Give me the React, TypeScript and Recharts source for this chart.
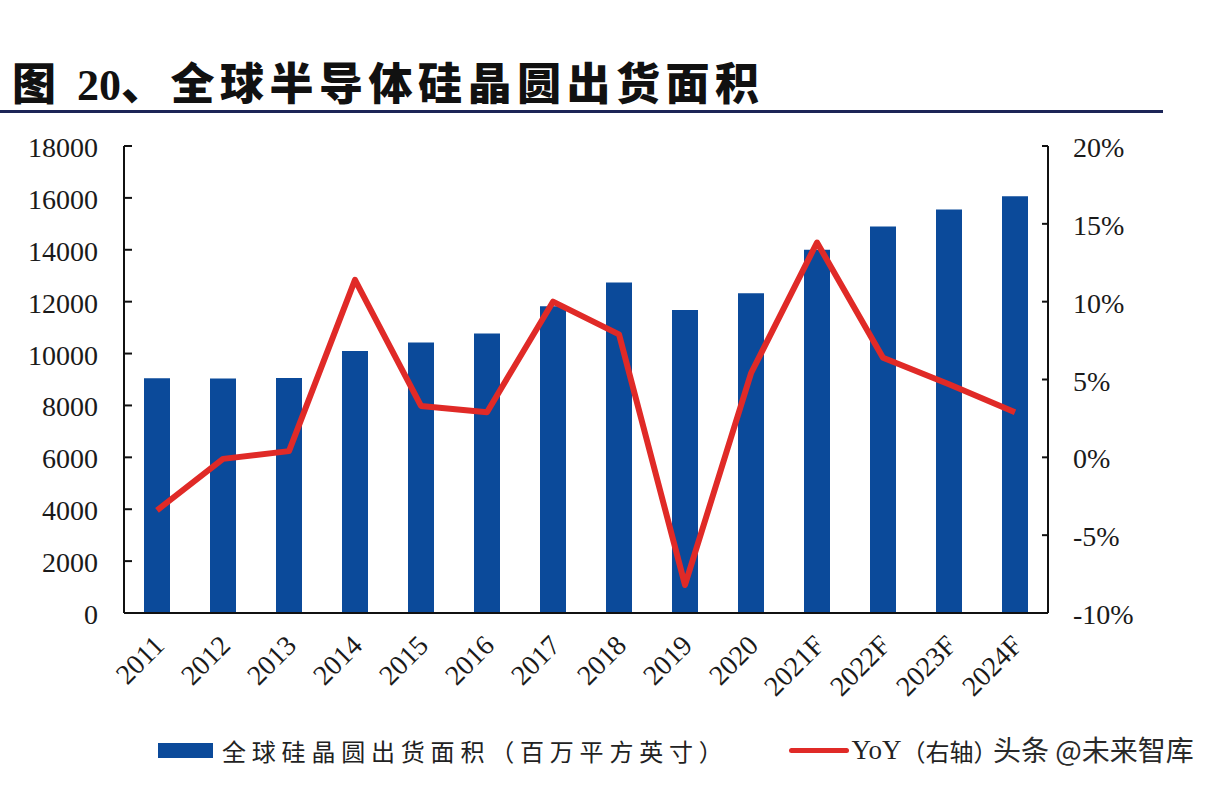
import { ComposedChart, Bar, Line, XAxis, YAxis } from 'recharts';

// 年份（横轴）
const years = ['2011', '2012', '2013', '2014', '2015', '2016', '2017', '2018', '2019', '2020', '2021F', '2022F', '2023F', '2024F'];
// 全球硅晶圆出货面积（百万平方英寸）
const shipArea = [9050, 9040, 9060, 10100, 10430, 10770, 11820, 12740, 11680, 12320, 14000, 14900, 15550, 16060];
// YoY（%，右轴）
const yoy = [-3.4, -0.1, 0.4, 11.4, 3.3, 2.9, 10.0, 7.9, -8.2, 5.4, 13.8, 6.4, 4.7, 2.9];

const leftTicks = [0, 2000, 4000, 6000, 8000, 10000, 12000, 14000, 16000, 18000];
const rightTicks = [-10, -5, 0, 5, 10, 15, 20];

const BAR = '#0b4a9a';
const RED = '#e02a27';
const SERIF = '"Liberation Serif", "Times New Roman", serif';

const data = years.map((y, i) => ({ year: y, area: shipArea[i], yoy: yoy[i] }));

function LeftTick(props: any) {
  const { x, y, payload } = props;
  return (
    <g>
      <line x1={x} x2={x + 8} y1={y} y2={y} stroke="#111" strokeWidth={2} />
      <text x={x - 26} y={y} dy={11} textAnchor="end" fontSize={28} fontFamily={SERIF} fill="#1a1a1a">
        {payload.value}
      </text>
    </g>
  );
}

function RightTick(props: any) {
  const { x, y, payload } = props;
  return (
    <g>
      <line x1={x - 6} x2={x} y1={y} y2={y} stroke="#111" strokeWidth={2} />
      <text x={x + 25} y={y} dy={11} textAnchor="start" fontSize={28} fontFamily={SERIF} fill="#1a1a1a">
        {payload.value + '%'}
      </text>
    </g>
  );
}

function XTick(props: any) {
  const { x, y, payload } = props;
  const tx = x + 9;
  const ty = y + 34;
  return (
    <text
      x={tx}
      y={ty}
      textAnchor="end"
      fontSize={28}
      fontFamily={SERIF}
      fill="#1a1a1a"
      transform={`rotate(-45, ${tx}, ${ty})`}
    >
      {payload.value}
    </text>
  );
}

export default function App() {
  return (
    <div style={{ position: 'absolute', left: 0, top: 0, width: 1226, height: 788, background: '#fff', overflow: 'hidden' }}>
      {/* 标题 */}
      <div
        style={{
          position: 'absolute',
          left: 12,
          top: 57,
          fontSize: 44,
          lineHeight: '48px',
          fontWeight: 900,
          letterSpacing: 5.5,
          fontFamily: '"Noto Sans CJK SC", sans-serif',
          color: '#111',
          whiteSpace: 'nowrap',
        }}
      >
        图 <span style={{ fontFamily: SERIF, fontWeight: 700, letterSpacing: 0 }}>20</span>、全球半导体硅晶圆出货面积
      </div>
      <div style={{ position: 'absolute', left: 0, top: 110, width: 1163, height: 3, background: '#1c2557' }} />

      <ComposedChart width={1226} height={788} data={data} margin={{ top: 146, right: 0, bottom: 65, left: 0 }}>
        <XAxis
          dataKey="year"
          height={110}
          interval={0}
          tickLine={false}
          tickSize={0}
          tickMargin={0}
          axisLine={{ stroke: '#111', strokeWidth: 2 }}
          tick={<XTick />}
        />
        <YAxis
          yAxisId="l"
          width={124}
          domain={[0, 18000]}
          ticks={leftTicks}
          interval={0}
          tickLine={false}
          tickSize={0}
          tickMargin={0}
          axisLine={{ stroke: '#111', strokeWidth: 2 }}
          tick={<LeftTick />}
        />
        <YAxis
          yAxisId="r"
          orientation="right"
          width={178}
          domain={[-10, 20]}
          ticks={rightTicks}
          interval={0}
          tickLine={false}
          tickSize={0}
          tickMargin={0}
          axisLine={{ stroke: '#111', strokeWidth: 2 }}
          tick={<RightTick />}
        />
        <Bar yAxisId="l" dataKey="area" fill={BAR} barSize={26} isAnimationActive={false} />
        <Line
          yAxisId="r"
          dataKey="yoy"
          type="linear"
          stroke={RED}
          strokeWidth={6}
          strokeLinejoin="round"
          dot={false}
          activeDot={false}
          isAnimationActive={false}
        />
      </ComposedChart>

      {/* 图例 */}
      <div
        style={{
          position: 'absolute',
          left: 158,
          top: 733,
          display: 'flex',
          alignItems: 'center',
          fontSize: 24,
          fontFamily: '"Noto Sans CJK SC", sans-serif',
          color: '#222',
          whiteSpace: 'nowrap',
        }}
      >
        <span style={{ display: 'inline-block', width: 55, height: 15, background: BAR, marginRight: 9 }} />
        <span style={{ letterSpacing: 5.8 }}>全球硅晶圆出货面积（百万平方英寸）</span>
        <span style={{ display: 'inline-block', width: 60, height: 5, borderRadius: 3, background: RED, marginLeft: 60, marginRight: 3 }} />
        <span style={{ fontFamily: SERIF, fontSize: 27 }}>YoY</span>
        <span>（右轴）</span>
      </div>
      {/* 水印 */}
      <div
        style={{
          position: 'absolute',
          left: 993,
          top: 729,
          fontSize: 28,
          fontFamily: '"Noto Sans CJK SC", sans-serif',
          color: '#2a2a2a',
          textShadow: '0 0 3px #fff, 0 0 2px #fff',
          whiteSpace: 'nowrap',
        }}
      >
        头条 @未来智库
      </div>
    </div>
  );
}
